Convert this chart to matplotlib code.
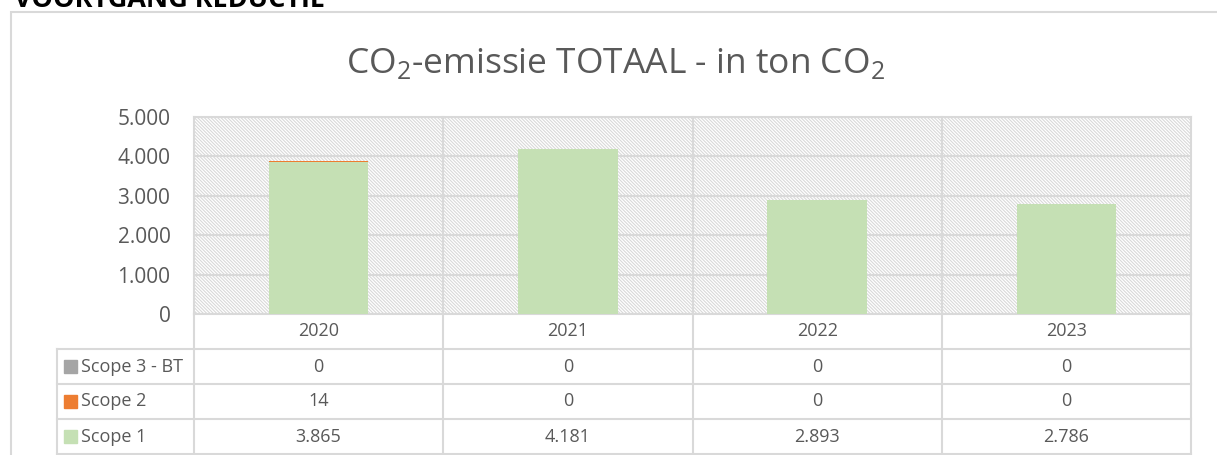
import matplotlib
matplotlib.use("Agg")
import matplotlib.pyplot as plt
from matplotlib.patches import Rectangle
from matplotlib.ticker import FuncFormatter, MultipleLocator

plt.rcParams['font.family'] = ['Open Sans', 'DejaVu Sans']
plt.rcParams['mathtext.fontset'] = 'custom'
plt.rcParams['mathtext.rm'] = 'Open Sans'
plt.rcParams['hatch.color'] = '#D4D4D4'
plt.rcParams['hatch.linewidth'] = 0.8

years = ['2020', '2021', '2022', '2023']
scope1 = [3865, 4181, 2893, 2786]
scope2 = [14, 0, 0, 0]
scope3 = [0, 0, 0, 0]
series_names = ['Scope 3 - BT', 'Scope 2', 'Scope 1']
colors = {'Scope 1': '#C5E0B4', 'Scope 2': '#ED7D31', 'Scope 3 - BT': '#A5A5A5'}

grid_c = '#D9D9D9'
txt_c = '#595959'

W, H = 1217, 455
fig = plt.figure(figsize=(W / 100, H / 100), dpi=100)

def fx(px):
    return px / W

def fy(py):
    return 1 - py / H

def nl(v):
    # dutch thousands separator
    return f"{int(v):,}".replace(',', '.')

# outer chart border (runs off the right and bottom edge)
fig.add_artist(Rectangle((fx(11), fy(470)), fx(1240) - fx(11), fy(12) - fy(470),
                         transform=fig.transFigure, fill=False, ec=grid_c, lw=1.5))
fig.text(fx(14), fy(7), 'VOORTGANG REDUCTIE', fontsize=19.5, fontweight='bold',
         color='black', ha='left', va='baseline')
fig.text(fx(615), fy(73), 'CO$_2$-emissie TOTAAL - in ton CO$_2$', fontsize=25.5,
         color=txt_c, ha='center', va='baseline')

ax = fig.add_axes([fx(194), fy(314), fx(1191) - fx(194), fy(117) - fy(314)])

# hatched plot area
ax.add_patch(Rectangle((0, 0), 1, 1, transform=ax.transAxes, facecolor='white',
                       edgecolor=grid_c, lw=0, hatch='\\' * 10, zorder=0))

x = list(range(len(years)))
b2 = [a + b for a, b in zip(scope1, scope2)]
ax.bar(x, scope1, width=0.4, color=colors['Scope 1'], zorder=3)
ax.bar(x, scope2, width=0.4, bottom=scope1, color=colors['Scope 2'], zorder=3)
ax.bar(x, scope3, width=0.4, bottom=b2, color=colors['Scope 3 - BT'], zorder=3)

ax.set_xlim(-0.5, len(years) - 0.5)
ax.set_ylim(0, 5000)
ax.yaxis.set_major_locator(MultipleLocator(1000))
ax.yaxis.set_major_formatter(FuncFormatter(lambda v, p: nl(v)))
ax.grid(axis='y', color=grid_c, lw=1.5, zorder=1)
ax.set_xticks([])
ax.tick_params(axis='y', length=0, pad=17, labelsize=15, labelcolor=txt_c)
for s in ax.spines.values():
    s.set_color(grid_c)
    s.set_linewidth(1.5)

# data table under the plot: x in category units, y in axes units
tr = ax.get_xaxis_transform()
col_px = (1191 - 194) / len(years)
ax_h = 314 - 117
lab = (194 - 57) / col_px
rh = 35 / ax_h
left = -0.5 - lab
right = len(years) - 0.5
n_rows = len(series_names) + 1
line_kw = dict(color=grid_c, lw=1.5, transform=tr, clip_on=False, zorder=1)

for k in range(1, n_rows + 1):
    ax.plot([left, right], [-k * rh, -k * rh], **line_kw)
ax.plot([left, left], [-rh, -n_rows * rh], **line_kw)
for k in range(len(years) + 1):
    xb = k - 0.5
    top = 1 if 0 < k < len(years) else 0
    ax.plot([xb, xb], [top, -n_rows * rh], **line_kw)

for j, yr in enumerate(years):
    ax.text(j, -rh / 2, yr, transform=tr, ha='center', va='center',
            fontsize=13, color=txt_c)

rows = {'Scope 3 - BT': scope3, 'Scope 2': scope2, 'Scope 1': scope1}
for i, name in enumerate(series_names):
    yc = -(i + 1.5) * rh
    ax.add_patch(Rectangle((left + 7 / col_px, yc - 6.5 / ax_h), 13 / col_px, 13 / ax_h,
                           transform=tr, color=colors[name], clip_on=False))
    ax.text(left + 24 / col_px, yc, name, transform=tr, ha='left', va='center',
            fontsize=13, color=txt_c)
    for j, v in enumerate(rows[name]):
        ax.text(j, yc, nl(v), transform=tr, ha='center', va='center',
                fontsize=13, color=txt_c)

fig.savefig('out.png', dpi=100)
